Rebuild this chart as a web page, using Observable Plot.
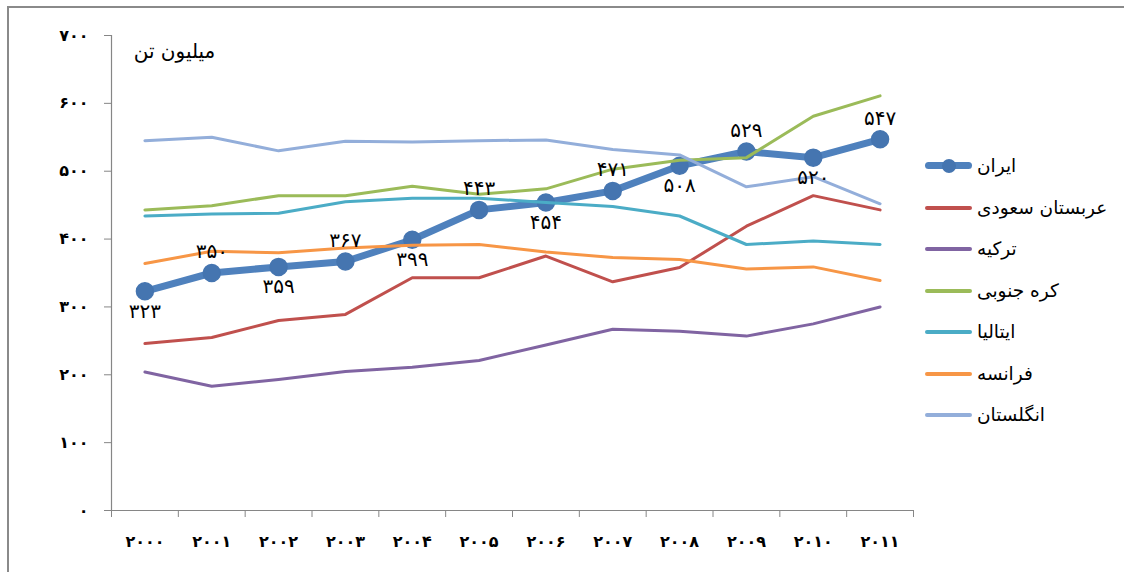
<!DOCTYPE html>
<html>
<head>
<meta charset="utf-8">
<script src="https://cdn.jsdelivr.net/npm/d3@7"></script>
<script src="https://cdn.jsdelivr.net/npm/@observablehq/plot@0.6"></script>
<style>
  html, body { margin: 0; padding: 0; background: #fff; }
  #wrap { position: relative; width: 1124px; height: 572px; overflow: hidden; font-family: "DejaVu Sans", sans-serif; }
  #frame { position: absolute; left: 7px; top: 6px; right: -4px; bottom: -4px; border-top: 2px solid #8a8a8a; border-left: 2px solid #8a8a8a; pointer-events: none; }
  #legend { position: absolute; left: 925px; top: 146px; }
  .row { position: relative; height: 41.5px; width: 195px; }
  .sw { position: absolute; left: 0; top: 18px; width: 47px; height: 4px; border-radius: 2px; }
  .dot { position: absolute; left: 17px; top: 13px; width: 14px; height: 14px; border-radius: 50%; }
  .lab { position: absolute; left: 52px; top: 7px; font-size: 18.5px; line-height: 26px; color: #000; direction: rtl; unicode-bidi: isolate; white-space: nowrap; }
</style>
</head>
<body>
<div id="wrap"><div id="frame"></div></div>
<script>
// ---- data ----
const years = [2000, 2001, 2002, 2003, 2004, 2005, 2006, 2007, 2008, 2009, 2010, 2011];
const seriesNames = ["ایران", "عربستان سعودی", "ترکیه", "کره جنوبی", "ایتالیا", "فرانسه", "انگلستان"];
const seriesColors = ["#4F81BD", "#C0504D", "#8064A2", "#9BBB59", "#4BACC6", "#F79646", "#93AEDA"];
const iran   = [323, 350, 359, 367, 399, 443, 454, 471, 508, 529, 520, 547];
const saudi  = [246, 255, 280, 289, 343, 343, 375, 337, 358, 419, 464, 443];
const turkey = [204, 183, 193, 205, 211, 221, 244, 267, 264, 257, 275, 300];
const korea  = [443, 449, 464, 464, 478, 466, 474, 503, 516, 520, 581, 611];
const italy  = [434, 437, 438, 455, 460, 460, 454, 448, 434, 392, 397, 392];
const france = [364, 382, 380, 387, 391, 392, 381, 373, 370, 356, 359, 339];
const uk     = [545, 550, 530, 544, 543, 545, 546, 532, 524, 477, 492, 452];
const yTicks = [0, 100, 200, 300, 400, 500, 600, 700];
const yTitle = "میلیون تن";

// ---- helpers ----
const faDigits = "۰۱۲۳۴۵۶۷۸۹";
const fa = v => String(v).replace(/\d/g, d => faDigits[d]);
const allSeries = [iran, saudi, turkey, korea, italy, france, uk];
const rows = allSeries.flatMap((vals, s) => vals.map((v, i) => ({year: years[i], value: v, series: seriesNames[s], idx: i})));
const iranRows = rows.filter(d => d.series === seriesNames[0]);
const otherRows = rows.filter(d => d.series !== seriesNames[0]);
const bounds = years.map(y => y - 0.5).concat([years[years.length - 1] + 0.5]);
const gray = "#868686";
const font = "DejaVu Sans";

const chart = Plot.plot({
  width: 1124,
  height: 572,
  marginLeft: 111,
  marginRight: 211,
  marginTop: 35,
  marginBottom: 62,
  style: {fontFamily: font, background: "transparent"},
  x: {domain: [bounds[0], bounds[bounds.length - 1]]},
  y: {domain: [yTicks[0], yTicks[yTicks.length - 1]]},
  color: {domain: seriesNames, range: seriesColors},
  marks: [
    Plot.ruleX([bounds[0]], {stroke: gray, strokeWidth: 1.2}),
    Plot.ruleY([0], {stroke: gray, strokeWidth: 1.2}),
    Plot.axisY({ticks: yTicks, tickSize: 7, tickPadding: 16, tickFormat: fa, label: null, stroke: gray, fill: "#000", fontSize: 16, fontWeight: "bold"}),
    Plot.axisX({ticks: bounds, tickSize: 7, tickFormat: () => "", label: null, stroke: gray}),
    Plot.axisX({ticks: years, tickSize: 0, tickPadding: 25, tickFormat: fa, label: null, fill: "#000", fontSize: 16, fontWeight: "bold"}),
    Plot.lineY(iranRows, {x: "year", y: "value", stroke: seriesColors[0], strokeWidth: 7, strokeLinejoin: "round", strokeLinecap: "round"}),
    Plot.dot(iranRows, {x: "year", y: "value", r: 8.5, fill: "#4575B0", stroke: "#4575B0"}),
    Plot.lineY(otherRows, {x: "year", y: "value", z: "series", stroke: "series", strokeWidth: 3, strokeLinejoin: "round", strokeLinecap: "round"}),
    Plot.text(iranRows.filter(d => d.idx % 2 === 0), {x: "year", y: "value", text: d => fa(d.value), dy: 20, fontSize: 20, fill: "#000"}),
    Plot.text(iranRows.filter(d => d.idx % 2 === 1), {x: "year", y: "value", text: d => fa(d.value), dy: -21, fontSize: 20, fill: "#000"}),
    Plot.text([yTitle], {frameAnchor: "top-left", dx: 63, dy: 8, textAnchor: "middle", fontSize: 20, fill: "#000"})
  ]
});

const wrap = document.getElementById("wrap");
wrap.insertBefore(chart, wrap.firstChild);

// ---- legend ----
const legend = document.createElement("div");
legend.id = "legend";
seriesNames.forEach((name, i) => {
  const row = document.createElement("div");
  row.className = "row";
  const sw = document.createElement("div");
  sw.className = "sw";
  sw.style.background = seriesColors[i];
  if (i === 0) { sw.style.height = "7px"; sw.style.top = "16px"; sw.style.borderRadius = "4px"; }
  row.appendChild(sw);
  if (i === 0) {
    const dot = document.createElement("div");
    dot.className = "dot";
    dot.style.background = "#4575B0";
    row.appendChild(dot);
  }
  const lab = document.createElement("div");
  lab.className = "lab";
  lab.textContent = name;
  row.appendChild(lab);
  legend.appendChild(row);
});
wrap.appendChild(legend);
</script>
</body>
</html>
